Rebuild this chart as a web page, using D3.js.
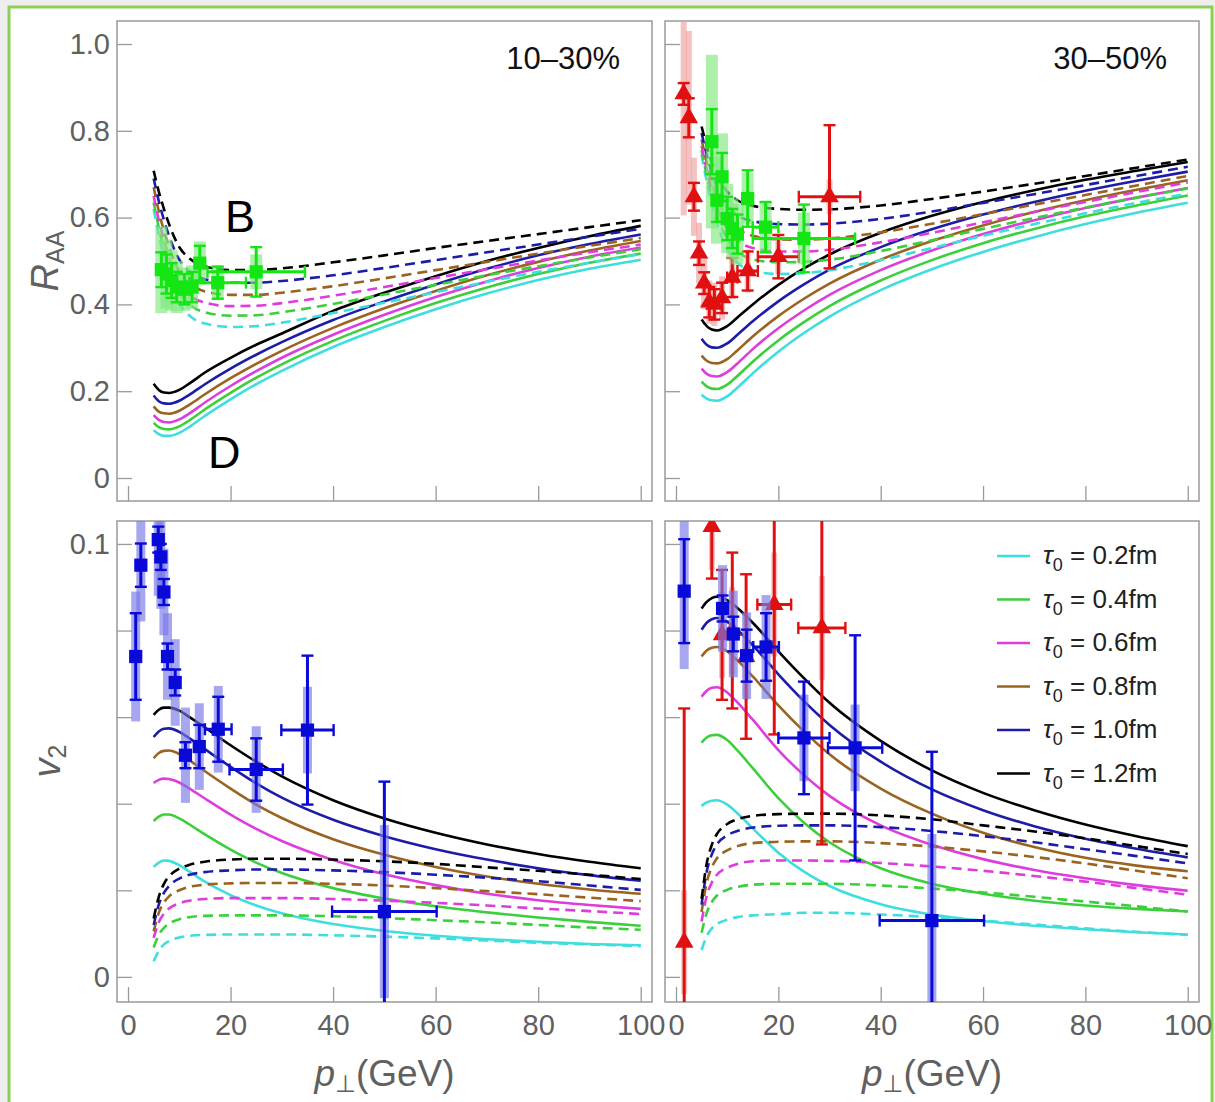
<!DOCTYPE html>
<html>
<head>
<meta charset="utf-8">
<script src="https://cdn.jsdelivr.net/npm/d3@7"></script>
<style>
  body { margin: 0; background: #eeeeee; }
  text { font-family: "Liberation Sans", Arial, sans-serif; }
</style>
</head>
<body>
<div id="chart"></div>
<script>
// pT grid of the model curves (GeV)
const GRID = [5, 6, 7, 8, 10, 12, 15, 20, 25, 30, 40, 50, 60, 70, 80, 90, 100];
const tauLabels = ["0.2fm", "0.4fm", "0.6fm", "0.8fm", "1.0fm", "1.2fm"];
const tauColors = ["#3fdede", "#3ccf3c", "#dd3ddd", "#9a6320", "#1c1ca8", "#000000"];
const xTicks = [0, 20, 40, 60, 80, 100];

// R_AA, 10-30%  (solid = D, dashed = B), rows: tau0 = 0.2 ... 1.2
const raaD_1030 = [
  [0.110,0.101,0.097,0.097,0.104,0.118,0.143,0.181,0.216,0.247,0.302,0.348,0.389,0.425,0.456,0.482,0.503],
  [0.127,0.117,0.113,0.112,0.119,0.133,0.158,0.196,0.231,0.262,0.316,0.362,0.403,0.439,0.470,0.496,0.517],
  [0.145,0.134,0.129,0.128,0.135,0.149,0.174,0.212,0.246,0.277,0.330,0.376,0.417,0.453,0.484,0.510,0.531],
  [0.165,0.153,0.149,0.148,0.155,0.169,0.193,0.230,0.263,0.293,0.346,0.391,0.431,0.467,0.498,0.524,0.546],
  [0.190,0.177,0.172,0.171,0.178,0.192,0.216,0.252,0.284,0.313,0.364,0.407,0.446,0.482,0.513,0.539,0.561],
  [0.217,0.203,0.197,0.196,0.203,0.218,0.243,0.277,0.307,0.333,0.385,0.427,0.465,0.500,0.530,0.557,0.581]
];
const raaB_1030 = [
  [0.620,0.560,0.510,0.467,0.404,0.374,0.356,0.348,0.350,0.358,0.380,0.404,0.428,0.452,0.475,0.496,0.516],
  [0.635,0.577,0.529,0.488,0.428,0.400,0.382,0.374,0.375,0.382,0.401,0.423,0.445,0.467,0.488,0.508,0.527],
  [0.650,0.594,0.548,0.508,0.450,0.422,0.404,0.396,0.397,0.403,0.420,0.440,0.461,0.481,0.501,0.520,0.538],
  [0.670,0.615,0.570,0.532,0.475,0.448,0.430,0.422,0.422,0.427,0.442,0.460,0.479,0.498,0.517,0.535,0.553],
  [0.690,0.638,0.595,0.558,0.503,0.476,0.458,0.450,0.450,0.454,0.467,0.484,0.502,0.520,0.538,0.556,0.574],
  [0.708,0.660,0.620,0.585,0.532,0.506,0.488,0.479,0.479,0.483,0.497,0.513,0.530,0.546,0.562,0.578,0.594]
];
// R_AA, 30-50%
const raaD_3050 = [
  [0.192,0.183,0.179,0.178,0.188,0.208,0.241,0.291,0.334,0.372,0.433,0.481,0.521,0.555,0.585,0.611,0.634],
  [0.222,0.211,0.206,0.205,0.215,0.235,0.268,0.317,0.359,0.396,0.455,0.502,0.541,0.574,0.603,0.628,0.651],
  [0.252,0.240,0.235,0.234,0.244,0.264,0.297,0.345,0.386,0.422,0.479,0.524,0.562,0.594,0.622,0.646,0.668],
  [0.282,0.270,0.265,0.264,0.274,0.294,0.326,0.373,0.413,0.448,0.503,0.546,0.582,0.613,0.640,0.664,0.686],
  [0.321,0.307,0.301,0.300,0.310,0.330,0.361,0.407,0.446,0.480,0.532,0.573,0.607,0.636,0.662,0.685,0.706],
  [0.365,0.350,0.342,0.340,0.350,0.370,0.400,0.445,0.483,0.515,0.565,0.604,0.636,0.663,0.687,0.708,0.728]
];
const raaB_3050 = [
  [0.745,0.684,0.632,0.588,0.527,0.496,0.477,0.470,0.472,0.479,0.502,0.530,0.558,0.585,0.610,0.634,0.655],
  [0.755,0.697,0.648,0.607,0.551,0.522,0.504,0.497,0.498,0.503,0.523,0.548,0.574,0.599,0.623,0.646,0.667],
  [0.765,0.710,0.663,0.625,0.574,0.547,0.530,0.522,0.522,0.526,0.543,0.565,0.589,0.613,0.636,0.659,0.681],
  [0.780,0.727,0.683,0.647,0.600,0.575,0.558,0.550,0.549,0.552,0.566,0.586,0.608,0.630,0.652,0.674,0.696],
  [0.795,0.745,0.703,0.670,0.628,0.605,0.592,0.585,0.584,0.586,0.597,0.614,0.634,0.654,0.675,0.696,0.717],
  [0.810,0.765,0.728,0.698,0.660,0.640,0.627,0.620,0.618,0.619,0.628,0.643,0.660,0.678,0.696,0.715,0.734]
];
// v2, 10-30%
const v2D_1030 = [
  [0.0254,0.0264,0.0269,0.0268,0.0258,0.0243,0.0220,0.0189,0.0165,0.0147,0.0122,0.0106,0.0095,0.0087,0.0081,0.0076,0.0073],
  [0.0360,0.0370,0.0375,0.0375,0.0366,0.0352,0.0329,0.0294,0.0264,0.0240,0.0205,0.0181,0.0163,0.0149,0.0137,0.0127,0.0118],
  [0.0448,0.0455,0.0458,0.0457,0.0449,0.0435,0.0412,0.0375,0.0342,0.0314,0.0270,0.0237,0.0212,0.0192,0.0177,0.0166,0.0157],
  [0.0505,0.0517,0.0522,0.0523,0.0515,0.0500,0.0475,0.0435,0.0398,0.0367,0.0318,0.0282,0.0254,0.0232,0.0215,0.0202,0.0192],
  [0.0554,0.0567,0.0573,0.0574,0.0566,0.0551,0.0526,0.0485,0.0447,0.0414,0.0363,0.0325,0.0295,0.0271,0.0251,0.0235,0.0222],
  [0.0605,0.0617,0.0622,0.0622,0.0615,0.0600,0.0576,0.0535,0.0497,0.0463,0.0408,0.0366,0.0333,0.0306,0.0284,0.0266,0.0251]
];
const v2B_1030 = [
  [0.0036,0.0060,0.0075,0.0083,0.0091,0.0095,0.0097,0.0098,0.0098,0.0098,0.0096,0.0093,0.0089,0.0084,0.0079,0.0075,0.0071],
  [0.0068,0.0097,0.0113,0.0123,0.0133,0.0138,0.0141,0.0142,0.0142,0.0142,0.0140,0.0136,0.0131,0.0126,0.0120,0.0114,0.0109],
  [0.0090,0.0126,0.0146,0.0158,0.0170,0.0176,0.0180,0.0182,0.0182,0.0182,0.0180,0.0176,0.0171,0.0165,0.0158,0.0152,0.0145],
  [0.0105,0.0148,0.0172,0.0186,0.0200,0.0208,0.0213,0.0216,0.0217,0.0217,0.0215,0.0211,0.0205,0.0198,0.0191,0.0183,0.0175],
  [0.0120,0.0167,0.0194,0.0210,0.0227,0.0236,0.0242,0.0246,0.0248,0.0248,0.0246,0.0242,0.0236,0.0229,0.0221,0.0211,0.0201],
  [0.0135,0.0185,0.0215,0.0232,0.0250,0.0259,0.0266,0.0271,0.0273,0.0273,0.0271,0.0267,0.0261,0.0253,0.0245,0.0236,0.0226]
];
// v2, 30-50%
const v2D_3050 = [
  [0.0395,0.0403,0.0407,0.0408,0.0398,0.0378,0.0343,0.0287,0.0243,0.0210,0.0168,0.0144,0.0129,0.0118,0.0110,0.0103,0.0098],
  [0.0541,0.0553,0.0558,0.0559,0.0547,0.0523,0.0482,0.0413,0.0356,0.0311,0.0251,0.0215,0.0192,0.0176,0.0165,0.0157,0.0151],
  [0.0647,0.0661,0.0668,0.0669,0.0657,0.0634,0.0594,0.0524,0.0466,0.0418,0.0350,0.0305,0.0272,0.0247,0.0228,0.0212,0.0199],
  [0.0740,0.0754,0.0760,0.0762,0.0752,0.0731,0.0694,0.0627,0.0567,0.0514,0.0435,0.0377,0.0333,0.0300,0.0275,0.0257,0.0244],
  [0.0802,0.0818,0.0826,0.0829,0.0820,0.0801,0.0766,0.0699,0.0637,0.0582,0.0497,0.0433,0.0385,0.0348,0.0319,0.0296,0.0276],
  [0.0851,0.0866,0.0875,0.0878,0.0870,0.0852,0.0818,0.0752,0.0690,0.0633,0.0545,0.0477,0.0425,0.0385,0.0352,0.0325,0.0302]
];
const v2B_3050 = [
  [0.0062,0.0094,0.0112,0.0122,0.0132,0.0138,0.0142,0.0145,0.0148,0.0148,0.0144,0.0138,0.0130,0.0121,0.0112,0.0104,0.0097],
  [0.0102,0.0148,0.0173,0.0188,0.0201,0.0208,0.0213,0.0215,0.0215,0.0215,0.0211,0.0204,0.0195,0.0185,0.0174,0.0163,0.0151],
  [0.0128,0.0187,0.0218,0.0236,0.0252,0.0261,0.0267,0.0269,0.0269,0.0268,0.0263,0.0255,0.0245,0.0233,0.0220,0.0205,0.0190],
  [0.0150,0.0218,0.0253,0.0274,0.0292,0.0302,0.0309,0.0312,0.0313,0.0313,0.0309,0.0301,0.0290,0.0277,0.0262,0.0245,0.0228],
  [0.0167,0.0243,0.0283,0.0306,0.0327,0.0337,0.0345,0.0349,0.0350,0.0350,0.0346,0.0337,0.0325,0.0311,0.0295,0.0279,0.0262],
  [0.0180,0.0262,0.0305,0.0330,0.0353,0.0364,0.0372,0.0376,0.0377,0.0377,0.0373,0.0364,0.0350,0.0336,0.0320,0.0302,0.0284]
];

// measured points: [pT, value, stat err, pT half width, syst err]
const raa1030Green = [
  [6.5,0.480,0.040,0,0.10],[7.5,0.470,0.045,0,0.08],[8.5,0.455,0.040,0,0.07],
  [9.5,0.440,0.035,0,0.06],[11,0.435,0.035,0,0.05],[12.5,0.440,0.035,0,0.05],
  [14,0.495,0.040,0,0.05],[17.5,0.450,0.037,5.5,0.04],[25,0.475,0.057,9.5,0.04]
];
const raa3050Red = [
  [1.5,0.885,0.025,0,0.28],[2.5,0.830,0.045,0,0.20],[3.5,0.648,0.032,0,0.09],
  [4.5,0.518,0.027,0,0.07],[5.5,0.449,0.025,0,0.06],[6.5,0.405,0.035,0,0.05],
  [7.5,0.400,0.035,0,0.05],[9,0.415,0.035,0,0.05],[11,0.462,0.045,1,0.05],
  [14,0.477,0.045,2,0.05],[20,0.510,0.050,4,0.04],[30,0.648,0.165,6,0.04]
];
const raa3050Green = [
  [7,0.775,0.075,0,0.20],[8,0.640,0.050,0,0.10],[9,0.694,0.055,0,0.10],
  [10,0.598,0.050,0,0.08],[11,0.575,0.045,0,0.07],[12,0.562,0.045,0,0.07],
  [14,0.644,0.065,1,0.06],[17.5,0.578,0.058,2.5,0.06],[25,0.552,0.078,10,0.06]
];
const v21030Blue = [
  [1.5,0.0740,0.0100,0,0.015],[2.5,0.0951,0.0050,0,0.013],[5.9,0.1010,0.0030,0,0.013],
  [6.4,0.0970,0.0030,0,0.012],[7.0,0.0889,0.0030,0,0.010],[7.7,0.0740,0.0030,0,0.010],
  [9.2,0.0680,0.0030,0,0.010],[11.2,0.0512,0.0030,0,0.011],[13.9,0.0532,0.0050,0,0.010],
  [17.6,0.0572,0.0075,2.6,0.010],[25,0.0479,0.0072,5.2,0.010],[35,0.0570,0.0172,5.1,0.010],
  [50,0.0151,0.0300,10.2,0.020]
];
const v23050Blue = [
  [1.6,0.0891,0.0120,0,0.018],[9.1,0.0851,0.0030,0,0.010],[11.2,0.0792,0.0040,0,0.010],
  [13.8,0.0742,0.0060,0,0.010],[17.6,0.0762,0.0078,2.5,0.012],[25,0.0552,0.0130,5,0.010],
  [35,0.0529,0.0260,5.3,0.010],[50,0.0130,0.0390,10.2,0.020]
];
const v23050Red = [
  [1.6,0.0080,0.054,0,0.012],[7.0,0.1040,0.012,0,0.010],[9.0,0.0790,0.015,0,0.010],
  [11.0,0.0800,0.018,0,0.010],[13.7,0.0740,0.019,0,0.010],[19.2,0.0860,0.030,3.3,0.012],
  [28.5,0.0806,0.050,4.6,0.012]
];

const W = 1215, H = 1102;
const svg = d3.select("#chart").append("svg")
  .attr("width", W).attr("height", H);

// page background and green outline
svg.append("rect").attr("width", W).attr("height", H).attr("fill", "#eeeeee");
svg.append("rect").attr("x", 9).attr("y", 7).attr("width", 1203).attr("height", 1110)
  .attr("fill", "white").attr("stroke", "#8ccf55").attr("stroke-width", 3);

const xDomain = [-2.15, 102.2];
const raaDomain = [-0.053, 1.053];
const v2Domain = [-0.0058, 0.1053];

const panels = [
  {id: "tl", left: 117, right: 652, top: 21, bottom: 501, yDomain: raaDomain, yTicks: [0,0.2,0.4,0.6,0.8,1.0],
   yFmt: d => d === 0 ? "0" : d3.format(".1f")(d), showY: true, showX: false,
   solid: raaD_1030, dashed: raaB_1030, title: "10\u201330%"},
  {id: "tr", left: 665, right: 1199, top: 21, bottom: 501, yDomain: raaDomain, yTicks: [0,0.2,0.4,0.6,0.8,1.0],
   showY: false, showX: false, solid: raaD_3050, dashed: raaB_3050, title: "30\u201350%"},
  {id: "bl", left: 117, right: 652, top: 521, bottom: 1002, yDomain: v2Domain, yTicks: [0,0.02,0.04,0.06,0.08,0.1],
   yFmt: d => d === 0 ? "0" : (d === 0.1 ? "0.1" : ""), showY: true, showX: true,
   solid: v2D_1030, dashed: v2B_1030},
  {id: "br", left: 665, right: 1199, top: 521, bottom: 1002, yDomain: v2Domain, yTicks: [0,0.02,0.04,0.06,0.08,0.1],
   showY: false, showX: true, solid: v2D_3050, dashed: v2B_3050}
];

const scales = {};

panels.forEach(p => {
  const x = d3.scaleLinear().domain(xDomain).range([p.left, p.right]);
  const y = d3.scaleLinear().domain(p.yDomain).range([p.bottom, p.top]);
  scales[p.id] = {x, y};

  svg.append("clipPath").attr("id", "clip-" + p.id)
    .append("rect").attr("x", p.left).attr("y", p.top)
    .attr("width", p.right - p.left).attr("height", p.bottom - p.top);

  // axes with inward ticks
  const yAxis = svg.append("g")
    .attr("transform", `translate(${p.left},0)`)
    .call(d3.axisLeft(y).tickValues(p.yTicks).tickSizeInner(-15).tickSizeOuter(0).tickPadding(7)
      .tickFormat(p.showY ? p.yFmt : () => ""));
  const xAxis = svg.append("g")
    .attr("transform", `translate(0,${p.bottom})`)
    .call(d3.axisBottom(x).tickValues(xTicks).tickSizeInner(-15).tickSizeOuter(0).tickPadding(12)
      .tickFormat(p.showX ? d3.format("d") : () => ""));
  [yAxis, xAxis].forEach(a => {
    a.select(".domain").remove();
    a.selectAll("line").attr("stroke", "#9a9a9a").attr("stroke-width", 1.3);
    a.selectAll("text").attr("fill", "#606060").attr("font-size", 29)
      .attr("font-family", "Liberation Sans, Arial, sans-serif");
  });

  // frame
  svg.append("rect").attr("x", p.left).attr("y", p.top)
    .attr("width", p.right - p.left).attr("height", p.bottom - p.top)
    .attr("fill", "none").attr("stroke", "#9a9a9a").attr("stroke-width", 1.5);

  const plot = svg.append("g").attr("clip-path", `url(#clip-${p.id})`);
  const line = d3.line()
    .x((d, i) => x(GRID[i]))
    .y(d => y(d))
    .curve(d3.curveMonotoneX);

  p.solid.forEach((row, i) => {
    plot.append("path").datum(row).attr("d", line)
      .attr("fill", "none").attr("stroke", tauColors[i]).attr("stroke-width", 2.6);
  });
  p.dashed.forEach((row, i) => {
    plot.append("path").datum(row).attr("d", line)
      .attr("fill", "none").attr("stroke", tauColors[i]).attr("stroke-width", 2.6)
      .attr("stroke-dasharray", "10,6");
  });
  p.plot = plot;

  if (p.title) {
    svg.append("text").attr("x", p.right - 32).attr("y", 69)
      .attr("text-anchor", "end").attr("font-size", 31).attr("fill", "#111").text(p.title);
  }
  if (p.showX) {
    const t = svg.append("text").attr("x", (p.left + p.right) / 2).attr("y", 1086)
      .attr("text-anchor", "middle").attr("font-size", 37).attr("fill", "#606060");
    t.append("tspan").attr("font-style", "italic").text("p");
    t.append("tspan").attr("font-size", 24).attr("dy", 6).attr("font-family", "DejaVu Sans").text("\u22a5");
    t.append("tspan").attr("dy", -6).text("(GeV)");
  }
});

function drawData(p, rows, color, light, shape, sysW) {
  const {x, y} = scales[p.id];
  const g = p.plot.append("g");
  // systematic boxes
  g.selectAll(".sys").data(rows).enter().append("rect")
    .attr("x", d => x(d[0]) - sysW / 2).attr("width", sysW)
    .attr("y", d => y(d[1] + d[4])).attr("height", d => y(d[1] - d[4]) - y(d[1] + d[4]))
    .attr("fill", light).attr("opacity", 0.65);
  // stat error bars
  g.selectAll(".ev").data(rows).enter().append("line")
    .attr("x1", d => x(d[0])).attr("x2", d => x(d[0]))
    .attr("y1", d => y(d[1] - d[2])).attr("y2", d => y(d[1] + d[2]))
    .attr("stroke", color).attr("stroke-width", 3);
  [-1, 1].forEach(s => {
    g.selectAll(".cap").data(rows).enter().append("line")
      .attr("x1", d => x(d[0]) - 6).attr("x2", d => x(d[0]) + 6)
      .attr("y1", d => y(d[1] + s * d[2])).attr("y2", d => y(d[1] + s * d[2]))
      .attr("stroke", color).attr("stroke-width", 2.4);
  });
  const wide = rows.filter(d => d[3] > 0);
  g.selectAll(".eh").data(wide).enter().append("line")
    .attr("x1", d => x(d[0] - d[3])).attr("x2", d => x(d[0] + d[3]))
    .attr("y1", d => y(d[1])).attr("y2", d => y(d[1]))
    .attr("stroke", color).attr("stroke-width", 3);
  [-1, 1].forEach(s => {
    g.selectAll(".hcap").data(wide).enter().append("line")
      .attr("x1", d => x(d[0] + s * d[3])).attr("x2", d => x(d[0] + s * d[3]))
      .attr("y1", d => y(d[1]) - 6).attr("y2", d => y(d[1]) + 6)
      .attr("stroke", color).attr("stroke-width", 2.4);
  });
  const sym = d3.symbol().type(shape === "tri" ? d3.symbolTriangle : d3.symbolSquare)
    .size(shape === "tri" ? 150 : 175);
  g.selectAll(".mk").data(rows).enter().append("path")
    .attr("transform", d => `translate(${x(d[0])},${y(d[1])})`)
    .attr("d", sym).attr("fill", color);
}

const [pTL, pTR, pBL, pBR] = panels;
drawData(pTL, raa1030Green, "#14e614", "#7fe87f", "sq", 12);
drawData(pTR, raa3050Red, "#e01010", "#f0a0a0", "tri", 6);
drawData(pTR, raa3050Green, "#14e614", "#7fe87f", "sq", 12);
drawData(pBL, v21030Blue, "#0a0ad8", "#7878e6", "sq", 9);
drawData(pBR, v23050Red, "#e01010", "#f0a0a0", "tri", 6);
drawData(pBR, v23050Blue, "#0a0ad8", "#7878e6", "sq", 9);

// y axis titles
const raaTitle = svg.append("text").attr("transform", "translate(58,261) rotate(-90)")
  .attr("text-anchor", "middle").attr("font-size", 38).attr("fill", "#606060");
raaTitle.append("tspan").attr("font-style", "italic").text("R");
raaTitle.append("tspan").attr("font-size", 25).attr("dy", 6).text("AA");

const v2Title = svg.append("text").attr("transform", "translate(60,761) rotate(-90)")
  .attr("text-anchor", "middle").attr("font-size", 38).attr("fill", "#606060");
v2Title.append("tspan").attr("font-style", "italic").text("v");
v2Title.append("tspan").attr("font-size", 25).attr("dy", 6).text("2");

// B / D annotations
svg.append("text").attr("x", 225).attr("y", 232).attr("font-size", 45).attr("fill", "#000").text("B");
svg.append("text").attr("x", 208).attr("y", 468).attr("font-size", 45).attr("fill", "#000").text("D");

// legend
const leg = svg.append("g");
tauLabels.forEach((lab, i) => {
  const yy = 556 + i * 43.5;
  leg.append("line").attr("x1", 997).attr("x2", 1030).attr("y1", yy).attr("y2", yy)
    .attr("stroke", tauColors[i]).attr("stroke-width", 2.6);
  const t = leg.append("text").attr("x", 1043).attr("y", yy + 8)
    .attr("font-size", 26).attr("fill", "#222");
  t.append("tspan").attr("font-style", "italic").text("\u03c4");
  t.append("tspan").attr("font-size", 18).attr("dy", 7).text("0");
  t.append("tspan").attr("dy", -7).text(" = " + lab);
});
</script>
</body>
</html>
